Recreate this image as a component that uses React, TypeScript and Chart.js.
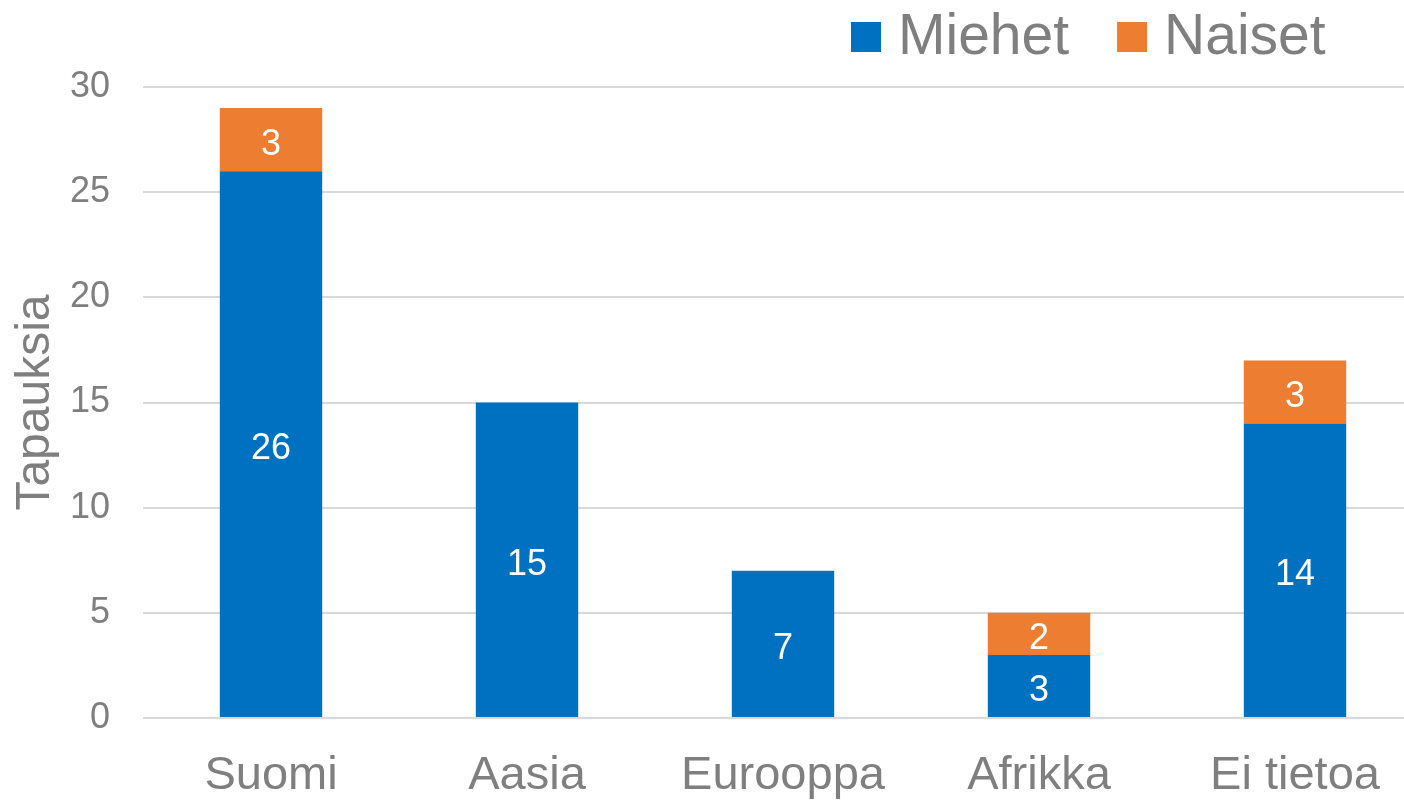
import React, { useEffect, useRef } from "react";
import { Chart, registerables } from "chart.js";

Chart.register(...registerables);

const categories = ["Suomi", "Aasia", "Eurooppa", "Afrikka", "Ei tietoa"];
const miehet = [26, 15, 7, 3, 14];
const naiset = [3, 0, 0, 2, 3];
const yTicks = [0, 5, 10, 15, 20, 25, 30];

const BLUE = "#0070C0";
const ORANGE = "#ED7D31";
const GRAY = "#7F7F7F";
const FONT = "'Liberation Sans', Arial, sans-serif";

const dataLabels = {
  id: "dataLabels",
  afterDatasetsDraw(chart: any) {
    const ctx = chart.ctx;
    ctx.save();
    ctx.font = `36px ${FONT}`;
    ctx.fillStyle = "#FFFFFF";
    ctx.textAlign = "center";
    ctx.textBaseline = "middle";
    chart.data.datasets.forEach((ds: any, di: number) => {
      const meta = chart.getDatasetMeta(di);
      meta.data.forEach((el: any, i: number) => {
        const v = ds.data[i];
        if (!v) return;
        const cy = (el.y + el.base) / 2;
        ctx.fillText(String(v), el.x, cy + 5);
      });
    });
    ctx.restore();
  },
};

const topLegend = {
  id: "topLegend",
  afterDraw(chart: any) {
    const ctx = chart.ctx;
    ctx.save();
    ctx.font = `57px ${FONT}`;
    ctx.textBaseline = "alphabetic";
    ctx.textAlign = "left";
    let x = 851;
    chart.data.datasets.forEach((ds: any) => {
      ctx.fillStyle = ds.backgroundColor;
      ctx.fillRect(x, 22, 30, 30);
      x += 30 + 17;
      ctx.fillStyle = GRAY;
      ctx.fillText(ds.label, x, 54);
      x += ctx.measureText(ds.label).width + 48;
    });
    ctx.restore();
  },
};

export default function App() {
  const ref = useRef<HTMLCanvasElement>(null);
  useEffect(() => {
    document.body.style.margin = "0";
    const chart = new Chart(ref.current!, {
      type: "bar",
      data: {
        labels: categories,
        datasets: [
          { label: "Miehet", data: miehet, backgroundColor: BLUE, borderWidth: 0 },
          { label: "Naiset", data: naiset, backgroundColor: ORANGE, borderWidth: 0 },
        ],
      },
      plugins: [dataLabels, topLegend],
      options: {
        responsive: false,
        animation: false,
        layout: { padding: { top: 87, left: 0, right: 0, bottom: 0 } },
        plugins: {
          legend: { display: false },
          tooltip: { enabled: false },
        },
        datasets: {
          bar: { categoryPercentage: 0.8, barPercentage: 0.5 },
        },
        scales: {
          x: {
            stacked: true,
            afterFit: (scale: any) => {
              scale.height = 83;
            },
            grid: { display: false, drawTicks: false },
            border: { display: false },
            ticks: {
              color: GRAY,
              font: { family: FONT, size: 47, lineHeight: 1.2 },
              padding: 30,
              maxRotation: 0,
            },
          },
          y: {
            stacked: true,
            min: 0,
            max: 30,
            afterBuildTicks: (scale: any) => {
              scale.ticks = yTicks.map((v) => ({ value: v }));
            },
            afterFit: (scale: any) => {
              scale.width = 143;
            },
            grid: { color: "#D9D9D9", lineWidth: 2, drawTicks: false },
            border: { display: false },
            ticks: {
              color: GRAY,
              font: { family: FONT, size: 36, lineHeight: 1.2 },
              padding: 33,
            },
            title: {
              display: true,
              text: "Tapauksia",
              color: GRAY,
              font: { family: FONT, size: 48, lineHeight: 1.2 },
              padding: { top: 7, bottom: 7 },
            },
          },
        },
      },
    });
    return () => chart.destroy();
  }, []);
  return (
    <div style={{ width: 1404, height: 801, overflow: "hidden", position: "relative" }}>
      <canvas ref={ref} width={1423} height={801} style={{ display: "block" }} />
    </div>
  );
}
